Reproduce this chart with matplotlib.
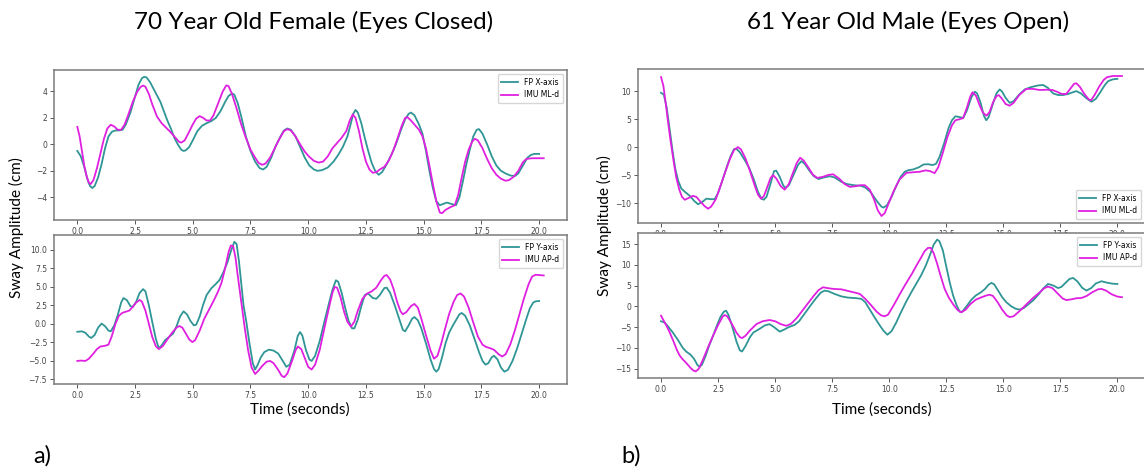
import matplotlib
matplotlib.use("Agg")
import matplotlib.pyplot as plt

# ---- data: (time s, sway cm) ----
# a) 70 year old female, eyes closed -- medio-lateral
a_fp_x = [(0, -0.5), (0.15, -0.9), (0.3, -1.7), (0.45, -2.7), (0.55, -3.15), (0.65, -3.3), (0.75, -3.15),
          (0.9, -2.5), (1.05, -1.5), (1.2, -0.3), (1.35, 0.6), (1.5, 0.95), (1.65, 1.05), (1.8, 1.05),
          (1.96, 1.1), (2.1, 1.5), (2.3, 2.4), (2.5, 3.6), (2.65, 4.5), (2.8, 5.0), (2.9, 5.1), (3.0, 5.05),
          (3.15, 4.7), (3.3, 4.2), (3.45, 3.7), (3.6, 3.2), (3.75, 2.5), (3.9, 1.8), (4.05, 1.2), (4.2, 0.5),
          (4.35, 0.0), (4.5, -0.4), (4.6, -0.5), (4.7, -0.45), (4.85, -0.2), (5.0, 0.3), (5.2, 1.0),
          (5.4, 1.4), (5.6, 1.6), (5.8, 1.75), (6.0, 2.0), (6.2, 2.5), (6.4, 3.2), (6.55, 3.65), (6.7, 3.85),
          (6.8, 3.75), (6.95, 3.1), (7.1, 2.1), (7.3, 0.6), (7.5, -0.5), (7.7, -1.3), (7.9, -1.8),
          (8.05, -1.9), (8.2, -1.7), (8.4, -1.0), (8.6, -0.1), (8.8, 0.6), (8.95, 1.05), (9.1, 1.2),
          (9.25, 1.1), (9.45, 0.6), (9.65, -0.2), (9.85, -1.0), (10.05, -1.6), (10.25, -1.9), (10.4, -2.0),
          (10.6, -1.95), (10.85, -1.75), (11.1, -1.3), (11.3, -0.8), (11.5, -0.2), (11.7, 0.6), (11.85, 1.6),
          (11.95, 2.3), (12.05, 2.6), (12.15, 2.4), (12.3, 1.6), (12.45, 0.5), (12.6, -0.5), (12.75, -1.4),
          (12.9, -2.0), (13.05, -2.3), (13.2, -2.1), (13.4, -1.5), (13.6, -0.8), (13.8, 0.0), (14.0, 1.0),
          (14.2, 1.9), (14.35, 2.3), (14.45, 2.4), (14.6, 2.2), (14.8, 1.5), (14.95, 0.8), (15.1, -0.5),
          (15.25, -2.0), (15.4, -3.3), (15.55, -4.3), (15.7, -4.6), (15.85, -4.5), (16.0, -4.4),
          (16.2, -4.5), (16.4, -4.6), (16.55, -4.0), (16.7, -2.8), (16.85, -1.5), (17.0, -0.4), (17.15, 0.6),
          (17.3, 1.1), (17.4, 1.15), (17.55, 0.8), (17.75, 0.0), (17.95, -0.9), (18.15, -1.6), (18.35, -2.0),
          (18.55, -2.2), (18.75, -2.35), (18.95, -2.4), (19.1, -2.2), (19.3, -1.6), (19.5, -1.0),
          (19.65, -0.8), (19.8, -0.72), (20.0, -0.72)]
a_imu_ml = [(0, 1.32), (0.1, 0.6), (0.2, -0.5), (0.3, -1.6), (0.4, -2.4), (0.5, -2.9), (0.58, -3.0),
            (0.7, -2.7), (0.85, -1.8), (1.0, -0.7), (1.15, 0.4), (1.3, 1.2), (1.45, 1.48), (1.6, 1.35),
            (1.75, 1.1), (1.9, 1.1), (2.05, 1.5), (2.2, 2.2), (2.4, 3.2), (2.6, 4.0), (2.75, 4.35),
            (2.85, 4.44), (2.95, 4.35), (3.1, 3.8), (3.25, 3.0), (3.45, 2.1), (3.65, 1.6), (3.85, 1.25),
            (4.05, 0.9), (4.25, 0.5), (4.4, 0.2), (4.5, 0.13), (4.65, 0.3), (4.8, 0.8), (5.0, 1.5),
            (5.15, 1.95), (5.3, 2.13), (5.45, 2.0), (5.6, 1.8), (5.75, 1.8), (5.9, 2.2), (6.1, 3.1),
            (6.3, 4.0), (6.45, 4.45), (6.55, 4.4), (6.7, 3.8), (6.9, 2.7), (7.1, 1.5), (7.3, 0.5),
            (7.5, -0.4), (7.7, -1.0), (7.85, -1.4), (8.0, -1.55), (8.15, -1.45), (8.35, -1.0), (8.55, -0.3),
            (8.75, 0.4), (8.95, 1.0), (9.1, 1.15), (9.25, 1.05), (9.45, 0.6), (9.65, 0.0), (9.85, -0.55),
            (10.05, -0.95), (10.25, -1.25), (10.45, -1.38), (10.65, -1.3), (10.85, -0.9), (11.05, -0.3),
            (11.25, 0.1), (11.45, 0.5), (11.65, 1.0), (11.8, 1.8), (11.93, 2.26), (12.05, 2.0), (12.2, 1.0),
            (12.35, -0.3), (12.5, -1.3), (12.65, -1.9), (12.8, -2.15), (12.95, -2.1), (13.1, -1.9),
            (13.3, -1.7), (13.5, -1.2), (13.7, -0.4), (13.9, 0.6), (14.05, 1.4), (14.2, 2.0), (14.3, 2.05),
            (14.45, 1.8), (14.65, 1.4), (14.8, 1.1), (14.95, 0.6), (15.1, -0.3), (15.25, -1.6), (15.4, -3.0),
            (15.55, -4.3), (15.7, -5.15), (15.8, -5.2), (15.95, -4.95), (16.15, -4.75), (16.35, -4.6),
            (16.5, -3.8), (16.65, -2.5), (16.8, -1.3), (16.95, -0.4), (17.1, 0.2), (17.22, 0.42),
            (17.35, 0.3), (17.55, -0.3), (17.75, -1.1), (17.95, -1.8), (18.15, -2.3), (18.35, -2.6),
            (18.55, -2.75), (18.7, -2.7), (18.9, -2.45), (19.1, -2.0), (19.3, -1.35), (19.45, -1.1),
            (19.7, -1.05), (20.2, -1.05)]
# a) anterior-posterior
a_fp_y = [(0, -1.06), (0.2, -1.0), (0.35, -1.2), (0.5, -1.7), (0.6, -1.9), (0.75, -1.5), (0.9, -0.5),
          (1.05, 0.05), (1.2, -0.3), (1.35, -0.9), (1.45, -1.0), (1.6, -0.2), (1.75, 1.2), (1.9, 2.9),
          (2.0, 3.5), (2.15, 3.2), (2.3, 2.4), (2.4, 2.3), (2.55, 3.0), (2.7, 4.2), (2.85, 4.7), (2.95, 4.4),
          (3.1, 2.5), (3.25, 0.2), (3.4, -2.0), (3.53, -3.3), (3.65, -2.9), (3.8, -2.2), (3.97, -1.76),
          (4.15, -1.3), (4.3, -0.3), (4.45, 1.0), (4.6, 1.7), (4.75, 1.3), (4.9, 0.4), (5.05, -0.2),
          (5.15, -0.1), (5.3, 1.0), (5.45, 2.6), (5.6, 3.9), (5.8, 4.8), (6.0, 5.4), (6.15, 5.9), (6.3, 6.8),
          (6.5, 8.3), (6.65, 9.8), (6.8, 11.1), (6.9, 10.8), (7.0, 8.5), (7.1, 5.5), (7.2, 2.5), (7.32, 0.3),
          (7.45, -2.5), (7.6, -5.3), (7.7, -6.16), (7.8, -5.6), (7.95, -4.5), (8.1, -3.8), (8.3, -3.47),
          (8.5, -3.6), (8.7, -4.0), (8.9, -5.0), (9.05, -5.8), (9.2, -5.5), (9.4, -3.6), (9.55, -1.6),
          (9.65, -1.1), (9.75, -1.6), (9.9, -3.5), (10.05, -4.8), (10.15, -5.0), (10.3, -4.3), (10.5, -2.3),
          (10.7, 0.3), (10.9, 2.8), (11.05, 4.6), (11.2, 5.9), (11.3, 5.7), (11.45, 4.2), (11.6, 2.2),
          (11.75, 0.4), (11.9, -0.6), (12.0, -0.6), (12.15, 0.6), (12.3, 2.4), (12.45, 3.9), (12.6, 4.1),
          (12.8, 3.5), (12.95, 3.4), (13.1, 3.9), (13.3, 4.85), (13.4, 4.9), (13.55, 4.2), (13.75, 2.5),
          (13.95, 0.6), (14.1, -0.8), (14.2, -1.0), (14.35, -0.2), (14.5, 0.7), (14.6, 0.93), (14.75, 0.5),
          (14.9, -0.6), (15.1, -2.6), (15.3, -4.8), (15.45, -6.1), (15.55, -6.45), (15.65, -6.1),
          (15.8, -4.5), (15.95, -2.6), (16.1, -1.2), (16.25, -0.3), (16.4, 0.5), (16.55, 1.3), (16.65, 1.48),
          (16.8, 1.1), (17.0, -0.2), (17.2, -2.0), (17.4, -3.8), (17.55, -5.0), (17.68, -5.5), (17.8, -5.3),
          (17.95, -4.5), (18.05, -4.3), (18.2, -4.8), (18.35, -5.9), (18.5, -6.45), (18.65, -6.2),
          (18.85, -5.0), (19.05, -3.3), (19.25, -1.3), (19.45, 0.7), (19.6, 2.1), (19.75, 2.9),
          (19.85, 3.05), (20.0, 3.1)]
a_imu_ap = [(0, -5.0), (0.15, -4.95), (0.35, -5.0), (0.5, -4.7), (0.7, -4.0), (0.85, -3.4), (1.0, -3.05),
            (1.2, -2.95), (1.35, -2.8), (1.5, -1.6), (1.65, 0.0), (1.8, 1.1), (1.95, 1.5), (2.1, 1.65),
            (2.25, 1.8), (2.4, 2.3), (2.55, 2.9), (2.7, 3.24), (2.8, 3.0), (2.95, 1.8), (3.1, 0.0),
            (3.25, -1.8), (3.4, -3.0), (3.53, -3.4), (3.7, -3.0), (3.9, -2.1), (4.1, -1.2), (4.3, -0.5),
            (4.42, -0.28), (4.55, -0.5), (4.7, -1.3), (4.85, -2.1), (4.98, -2.45), (5.1, -2.2), (5.3, -0.9),
            (5.5, 0.7), (5.7, 1.9), (5.9, 3.1), (6.1, 4.4), (6.25, 5.6), (6.4, 7.5), (6.55, 9.7), (6.65, 10.6),
            (6.75, 10.5), (6.85, 9.0), (6.95, 6.5), (7.1, 3.0), (7.25, -0.5), (7.4, -3.6), (7.55, -5.9),
            (7.7, -6.76), (7.85, -6.3), (8.0, -5.7), (8.2, -5.1), (8.35, -5.0), (8.5, -5.3), (8.7, -6.2),
            (8.85, -7.0), (8.96, -7.2), (9.1, -6.7), (9.3, -5.0), (9.45, -3.6), (9.55, -3.05), (9.7, -3.4),
            (9.85, -4.6), (10.0, -5.8), (10.15, -6.16), (10.3, -5.5), (10.5, -3.5), (10.7, -0.6), (10.9, 2.2),
            (11.05, 4.2), (11.15, 5.0), (11.25, 4.9), (11.4, 3.6), (11.55, 1.7), (11.7, 0.3), (11.85, -0.37),
            (12.0, 0.3), (12.15, 1.8), (12.35, 3.4), (12.55, 4.1), (12.75, 4.4), (12.95, 4.9), (13.15, 5.9),
            (13.3, 6.5), (13.4, 6.6), (13.55, 6.0), (13.7, 4.7), (13.85, 3.0), (14.0, 1.7), (14.1, 1.3),
            (14.25, 1.6), (14.45, 2.4), (14.6, 2.7), (14.75, 2.2), (14.9, 0.7), (15.1, -1.5), (15.3, -3.6),
            (15.45, -4.7), (15.6, -4.3), (15.75, -2.8), (15.9, -1.0), (16.1, 1.3), (16.3, 3.0), (16.45, 3.9),
            (16.6, 4.12), (16.75, 3.7), (16.95, 2.2), (17.15, 0.2), (17.35, -1.7), (17.55, -2.8),
            (17.7, -3.1), (17.9, -3.3), (18.05, -3.5), (18.25, -4.1), (18.4, -4.4), (18.55, -4.1),
            (18.75, -2.8), (18.95, -0.9), (19.15, 1.3), (19.35, 3.5), (19.55, 5.4), (19.7, 6.4),
            (19.85, 6.65), (20.0, 6.6), (20.2, 6.55)]

# b) 61 year old male, eyes open -- medio-lateral
b_fp_x = [(0, 9.7), (0.12, 9.4), (0.25, 7.0), (0.38, 3.1), (0.5, -0.5), (0.62, -3.8), (0.75, -6.0),
          (0.89, -7.4), (1.05, -8.0), (1.26, -8.7), (1.45, -9.6), (1.62, -10.2), (1.8, -9.8), (1.99, -9.2),
          (2.2, -9.3), (2.35, -9.3), (2.5, -8.2), (2.7, -5.8), (2.9, -3.3), (3.05, -1.6), (3.2, -0.35),
          (3.3, -0.3), (3.45, -0.9), (3.65, -2.2), (3.85, -3.6), (4.05, -5.6), (4.25, -8.0), (4.4, -9.2),
          (4.5, -9.4), (4.62, -8.9), (4.8, -6.5), (4.95, -4.3), (5.05, -4.2), (5.2, -5.3), (5.35, -6.8),
          (5.45, -7.3), (5.6, -6.8), (5.8, -5.0), (6.0, -3.2), (6.15, -2.5), (6.3, -3.0), (6.5, -4.2),
          (6.7, -5.2), (6.9, -5.7), (7.15, -5.4), (7.4, -5.2), (7.6, -5.4), (7.9, -6.2), (8.15, -6.6),
          (8.45, -6.8), (8.75, -6.9), (8.95, -7.2), (9.2, -8.1), (9.45, -9.6), (9.65, -10.6), (9.75, -10.8),
          (9.9, -10.4), (10.1, -8.9), (10.3, -7.0), (10.5, -5.3), (10.68, -4.4), (10.85, -4.1), (11.04, -4.0),
          (11.3, -3.6), (11.5, -3.1), (11.7, -3.05), (11.9, -3.2), (12.05, -3.0), (12.2, -1.8), (12.4, 0.6),
          (12.6, 3.4), (12.75, 4.8), (12.9, 5.5), (13.05, 5.4), (13.24, 5.2), (13.4, 6.5), (13.6, 8.9),
          (13.75, 9.9), (13.85, 9.6), (14.0, 8.0), (14.15, 5.6), (14.25, 4.8), (14.35, 5.3), (14.55, 7.8),
          (14.7, 9.6), (14.84, 10.3), (14.95, 9.9), (15.1, 8.8), (15.28, 7.9), (15.45, 8.2), (15.7, 9.4),
          (15.94, 10.3), (16.2, 10.7), (16.5, 11.0), (16.74, 11.1), (16.95, 10.6), (17.18, 9.6), (17.4, 9.3),
          (17.62, 9.3), (17.85, 9.5), (18.05, 9.8), (18.2, 10.0), (18.4, 9.6), (18.65, 8.7), (18.86, 8.1),
          (19.05, 8.6), (19.25, 9.8), (19.45, 11.1), (19.6, 11.8), (19.8, 12.1), (20.0, 12.2)]
b_imu_ml = [(0, 12.5), (0.1, 11.0), (0.2, 8.0), (0.3, 4.7), (0.4, 1.6), (0.55, -2.5), (0.67, -5.5),
            (0.8, -7.6), (0.92, -8.9), (1.04, -9.4), (1.2, -9.1), (1.4, -8.7), (1.55, -8.9), (1.7, -9.6),
            (1.9, -10.5), (2.06, -11.0), (2.2, -10.6), (2.4, -9.3), (2.6, -7.0), (2.8, -4.6), (3.0, -2.3),
            (3.2, -0.5), (3.37, 0.0), (3.5, -0.4), (3.7, -2.0), (3.9, -4.3), (4.1, -6.8), (4.25, -8.5),
            (4.38, -9.2), (4.5, -8.8), (4.65, -7.2), (4.8, -5.5), (4.91, -5.0), (5.05, -5.6), (5.25, -7.0),
            (5.42, -7.6), (5.6, -6.6), (5.8, -4.4), (5.95, -2.8), (6.1, -1.9), (6.25, -2.4), (6.45, -3.6),
            (6.65, -4.9), (6.84, -5.5), (7.1, -5.3), (7.35, -4.95), (7.54, -4.85), (7.8, -5.6), (8.05, -6.6),
            (8.27, -7.1), (8.5, -7.0), (8.75, -6.8), (8.93, -6.8), (9.15, -7.6), (9.35, -9.5), (9.5, -11.3),
            (9.66, -12.3), (9.8, -11.8), (10.0, -9.8), (10.2, -7.8), (10.45, -5.8), (10.75, -4.6),
            (11.0, -4.5), (11.34, -4.4), (11.6, -4.15), (11.8, -4.3), (11.99, -4.65), (12.15, -3.6),
            (12.35, -1.0), (12.55, 1.8), (12.75, 3.9), (12.9, 4.8), (13.1, 5.0), (13.24, 5.2), (13.4, 7.0),
            (13.55, 9.0), (13.65, 9.8), (13.8, 9.2), (13.95, 7.6), (14.1, 6.2), (14.26, 5.6), (14.4, 6.3),
            (14.55, 8.0), (14.7, 9.1), (14.8, 9.3), (14.95, 8.6), (15.1, 7.7), (15.28, 7.4), (15.45, 7.9),
            (15.7, 9.3), (16.01, 10.4), (16.3, 10.4), (16.6, 10.2), (16.89, 10.25), (17.15, 10.2),
            (17.35, 9.9), (17.55, 9.5), (17.76, 9.5), (17.95, 10.5), (18.1, 11.3), (18.2, 11.4),
            (18.35, 10.8), (18.55, 9.5), (18.75, 8.5), (18.85, 8.4), (19.0, 9.3), (19.2, 10.8), (19.4, 12.0),
            (19.55, 12.5), (19.8, 12.7), (20.2, 12.7)]
# b) anterior-posterior
b_fp_y = [(0, -3.6), (0.15, -3.9), (0.3, -4.8), (0.5, -6.2), (0.75, -8.2), (0.95, -10.0), (1.1, -10.9),
          (1.3, -11.7), (1.45, -12.7), (1.6, -14.2), (1.7, -14.6), (1.8, -14.0), (1.95, -12.0), (2.1, -9.6),
          (2.28, -7.1), (2.45, -4.6), (2.6, -2.6), (2.75, -1.3), (2.85, -1.05), (2.95, -2.0), (3.1, -4.5),
          (3.3, -8.4), (3.45, -10.6), (3.55, -10.9), (3.7, -9.6), (3.9, -7.4), (4.05, -6.3), (4.3, -5.5),
          (4.55, -4.6), (4.75, -4.3), (4.95, -5.0), (5.2, -6.1), (5.4, -5.6), (5.6, -5.0), (5.85, -4.5),
          (6.05, -3.6), (6.3, -1.7), (6.55, 0.2), (6.8, 2.0), (7.0, 3.3), (7.17, 3.8), (7.35, 3.6),
          (7.6, 3.0), (7.9, 2.4), (8.2, 2.1), (8.5, 2.0), (8.78, 1.8), (8.95, 1.0), (9.15, -0.8),
          (9.35, -2.6), (9.55, -4.3), (9.75, -5.9), (9.92, -6.85), (10.1, -6.0), (10.3, -4.0), (10.5, -1.6),
          (10.75, 1.2), (11.0, 3.7), (11.2, 5.6), (11.4, 7.5), (11.6, 9.8), (11.8, 12.6), (11.95, 14.9),
          (12.1, 16.1), (12.2, 15.7), (12.35, 13.5), (12.5, 9.6), (12.65, 5.8), (12.8, 2.6), (12.95, 0.3),
          (13.09, -1.3), (13.2, -1.3), (13.4, 0.1), (13.6, 1.6), (13.79, 2.6), (14.0, 3.3), (14.2, 4.2),
          (14.35, 5.2), (14.48, 5.65), (14.6, 5.3), (14.75, 4.0), (14.95, 2.2), (15.13, 1.0), (15.35, 0.0),
          (15.55, -0.6), (15.72, -0.8), (15.9, -0.4), (16.1, 0.5), (16.3, 1.4), (16.55, 2.9), (16.75, 4.3),
          (16.96, 5.4), (17.2, 5.0), (17.4, 4.4), (17.55, 4.7), (17.75, 5.8), (17.9, 6.6), (18.06, 6.85),
          (18.25, 6.0), (18.45, 4.5), (18.64, 3.8), (18.85, 4.4), (19.05, 5.5), (19.3, 6.05), (19.55, 5.7),
          (19.8, 5.45), (20.0, 5.4)]
b_imu_ap = [(0, -2.26), (0.12, -3.5), (0.25, -4.8), (0.38, -6.3), (0.55, -8.5), (0.7, -10.6), (0.82, -11.9),
            (0.95, -12.8), (1.11, -13.7), (1.3, -14.9), (1.42, -15.5), (1.52, -15.7), (1.65, -15.1),
            (1.85, -12.7), (2.05, -10.0), (2.28, -7.1), (2.5, -4.5), (2.7, -2.5), (2.79, -2.1), (2.9, -2.4),
            (3.1, -4.2), (3.3, -6.3), (3.45, -7.4), (3.55, -7.66), (3.7, -7.1), (3.9, -5.8), (4.18, -4.3),
            (4.45, -3.6), (4.76, -3.3), (5.0, -3.6), (5.25, -4.3), (5.49, -4.7), (5.7, -4.2), (5.95, -2.8),
            (6.2, -1.0), (6.45, 0.8), (6.7, 2.6), (6.9, 3.9), (7.1, 4.6), (7.3, 4.4), (7.55, 4.2), (7.9, 4.1),
            (8.2, 3.7), (8.5, 3.3), (8.71, 3.0), (8.95, 1.8), (9.2, 0.3), (9.45, -1.3), (9.65, -2.2),
            (9.8, -2.4), (9.95, -2.0), (10.2, 0.3), (10.45, 2.8), (10.7, 5.2), (11.0, 7.9), (11.2, 9.9),
            (11.4, 11.8), (11.55, 13.3), (11.7, 14.1), (11.82, 14.1), (11.95, 12.8), (12.1, 10.3),
            (12.25, 7.4), (12.43, 4.2), (12.6, 2.2), (12.8, 0.5), (13.0, -0.9), (13.16, -1.45), (13.35, -0.8),
            (13.55, 0.5), (13.79, 1.6), (14.05, 2.2), (14.25, 2.6), (14.4, 2.8), (14.55, 2.5), (14.75, 1.0),
            (14.95, -0.8), (15.15, -2.2), (15.28, -2.6), (15.45, -2.4), (15.7, -1.2), (16.0, 0.4), (16.3, 2.0),
            (16.6, 3.4), (16.8, 4.4), (16.96, 4.75), (17.15, 4.4), (17.4, 3.0), (17.6, 1.9), (17.76, 1.5),
            (18.0, 1.7), (18.2, 1.95), (18.42, 2.0), (18.65, 2.5), (18.9, 3.4), (19.15, 4.1), (19.3, 4.2),
            (19.5, 3.8), (19.75, 2.9), (20.0, 2.35), (20.2, 2.2)]

TEAL = "#2f9595"
MAGENTA = "#e020e0"
W, H = 1144, 470
LABEL_FONT = "Lato"


def px_axes(fig, x0, y0, x1, y1):
    # axes from a pixel box measured from the top-left corner
    return fig.add_axes([x0 / W, 1 - y1 / H, (x1 - x0) / W, (y1 - y0) / H])


def draw(ax, fp, imu, lab1, lab2, loc):
    t1, v1 = zip(*fp)
    t2, v2 = zip(*imu)
    ax.plot(t1, v1, color=TEAL, lw=1.3, label=lab1)
    ax.plot(t2, v2, color=MAGENTA, lw=1.3, label=lab2)
    ax.tick_params(labelsize=5.5, labelcolor="#444444", color="#555555", length=3, width=0.7, pad=2)
    for s in ax.spines.values():
        s.set_color("#7a7a7a")
        s.set_linewidth(1.1)
    ax.legend(loc=loc, fontsize=5.5, frameon=True, handlelength=2.2, borderpad=0.5)


fig = plt.figure(figsize=(W / 100, H / 100), dpi=100)

ax1 = px_axes(fig, 54, 70, 567, 220)
draw(ax1, a_fp_x, a_imu_ml, "FP X-axis", "IMU ML-d", "upper right")
ax1.set_yticks([-4, -2, 0, 2, 4])

ax2 = px_axes(fig, 54, 235, 567, 384)
draw(ax2, a_fp_y, a_imu_ap, "FP Y-axis", "IMU AP-d", "upper right")
ax2.set_yticks([-7.5, -5, -2.5, 0, 2.5, 5, 7.5, 10])

ax3 = px_axes(fig, 638, 69, 1145, 223)
draw(ax3, b_fp_x, b_imu_ml, "FP X-axis", "IMU ML-d", "lower right")
ax3.set_yticks([-10, -5, 0, 5, 10])

ax4 = px_axes(fig, 638, 233, 1145, 378)
draw(ax4, b_fp_y, b_imu_ap, "FP Y-axis", "IMU AP-d", "upper right")
ax4.set_yticks([-15, -10, -5, 0, 5, 10, 15])

# titles and shared labels
fig.text(314 / W, 1 - 22 / H, "70 Year Old Female (Eyes Closed)", ha="center", va="center",
         fontsize=17.5, family=LABEL_FONT)
fig.text(908 / W, 1 - 22 / H, "61 Year Old Male (Eyes Open)", ha="center", va="center",
         fontsize=17.5, family=LABEL_FONT)
fig.text(300 / W, 1 - 410 / H, "Time (seconds)", ha="center", va="center", fontsize=11, family=LABEL_FONT)
fig.text(882 / W, 1 - 410 / H, "Time (seconds)", ha="center", va="center", fontsize=11, family=LABEL_FONT)
fig.text(16 / W, 1 - 228 / H, "Sway Amplitude (cm)", ha="center", va="center", rotation=90,
         fontsize=11, family=LABEL_FONT)
fig.text(604 / W, 1 - 226 / H, "Sway Amplitude (cm)", ha="center", va="center", rotation=90,
         fontsize=11, family=LABEL_FONT)
fig.text(42 / W, 1 - 456 / H, "a)", ha="center", va="center", fontsize=17, family=LABEL_FONT)
fig.text(631 / W, 1 - 456 / H, "b)", ha="center", va="center", fontsize=17, family=LABEL_FONT)

fig.savefig("out.png", dpi=100)
